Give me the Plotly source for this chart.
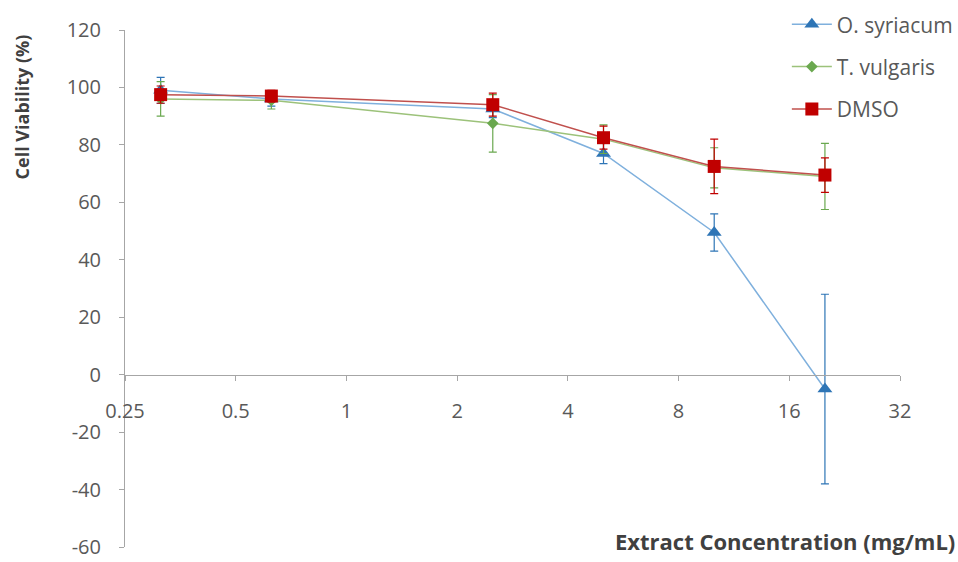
import plotly.graph_objects as go
import math

# Extract concentrations (mg/mL)
conc = [0.3125, 0.625, 2.5, 5, 10, 20]

# Cell viability (%) and error bars for each treatment
o_syriacum = [99, 96, 92.5, 77, 49.5, -5]
o_syriacum_err = [4.5, 2.5, 3, 3.5, 6.5, 33]

t_vulgaris = [96, 95.5, 87.5, 82, 72, 69]
t_vulgaris_err = [6, 3, 10, 5, 7, 11.5]

dmso = [97.5, 97, 94, 82.5, 72.5, 69.5]
dmso_err = [3, 2, 4, 4, 9.5, 6]

x_ticks = [0.25, 0.5, 1, 2, 4, 8, 16, 32]
x_tick_labels = ["0.25", "0.5", "1", "2", "4", "8", "16", "32"]
y_ticks = [-60, -40, -20, 0, 20, 40, 60, 80, 100, 120]
y_tick_labels = ["-60", "-40", "-20", "0", "20", "40", "60", "80", "100", "120"]

FONT = "Open Sans, Liberation Sans, sans-serif"
GRAY = "#595959"

fig = go.Figure()

series = [
    ("O. syriacum", o_syriacum, o_syriacum_err, "#7fb0dd", "#2e75b6", "triangle-up", 13),
    ("T. vulgaris", t_vulgaris, t_vulgaris_err, "#9cc27a", "#6aa84f", "diamond", 9),
    ("DMSO", dmso, dmso_err, "#c0504d", "#c00000", "square", 13),
]

for name, vals, errs, line_c, mark_c, sym, size in series:
    fig.add_trace(go.Scatter(
        x=conc, y=vals, name=name, mode="lines+markers",
        legendgroup=name,
        line=dict(color=line_c, width=1.5),
        marker=dict(color=mark_c, symbol=sym, size=size),
        error_y=dict(type="data", array=errs, visible=True,
                     color=mark_c, thickness=1.2, width=4),
    ))

fig.update_layout(
    width=958, height=562,
    margin=dict(l=125, r=58, t=30, b=15, autoexpand=False),
    paper_bgcolor="white", plot_bgcolor="white",
    font=dict(family=FONT, size=19, color=GRAY),
    legend=dict(x=0.854, xanchor="left", y=1.05, yanchor="top",
                xref="paper", yref="paper",
                font=dict(size=21, color=GRAY),
                tracegroupgap=12, itemwidth=40,
                bgcolor="rgba(0,0,0,0)"),
    showlegend=True,
)

fig.update_xaxes(
    type="log",
    range=[math.log10(0.25), math.log10(32)],
    tickvals=x_ticks, ticktext=x_tick_labels,
    showgrid=False, zeroline=False,
    showline=True, linecolor="#a6a6a6", linewidth=1,
    ticks="outside", ticklen=5, tickcolor="#a6a6a6",
    ticklabelstandoff=13, ticklabeloverflow="allow",
    anchor="free", position=60 / 180,
    tickfont=dict(size=20, color=GRAY),
)

fig.update_yaxes(
    range=[-60, 120], tickvals=y_ticks, ticktext=y_tick_labels,
    showgrid=False, zeroline=False,
    showline=True, linecolor="#a6a6a6", linewidth=1,
    ticks="outside", ticklen=5, tickcolor="#a6a6a6",
    ticklabelstandoff=14, ticklabeloverflow="allow",
    tickfont=dict(size=20, color=GRAY),
)

fig.add_annotation(
    text="<b>Cell Viability (%)</b>", textangle=-90,
    xref="paper", yref="paper", x=-0.133, y=0.852,
    xanchor="center", yanchor="middle", showarrow=False,
    font=dict(family=FONT, size=18, color="#404040"),
)
fig.add_annotation(
    text="<b>Extract Concentration (mg/mL)</b>",
    xref="paper", yref="paper", x=1.073, y=0.012,
    xanchor="right", yanchor="middle", showarrow=False,
    font=dict(family=FONT, size=22, color="#404040"),
)

fig.write_html("out.html")
